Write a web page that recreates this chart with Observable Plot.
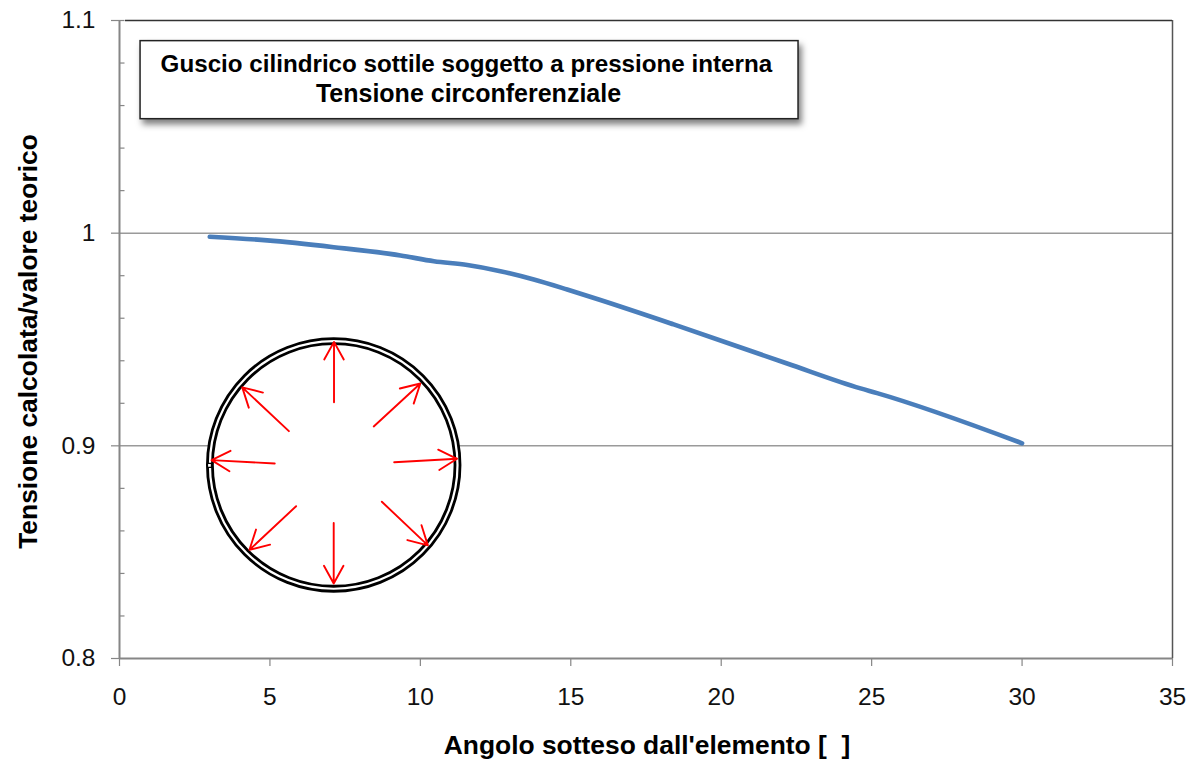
<!DOCTYPE html>
<html><head><meta charset="utf-8">
<script src="https://cdn.jsdelivr.net/npm/d3@7"></script>
<script src="https://cdn.jsdelivr.net/npm/@observablehq/plot@0.6"></script>
<style>html,body{margin:0;padding:0;background:#fff}svg{display:block}</style>
</head><body><div id="chart"></div>
<script>
const angle = [3, 4.91, 7.12, 9.34, 10.45, 11.56, 12.66, 13.77, 14.88, 15.93, 18.42, 22.19, 24.63, 25.18, 30];
const ratio = [0.9983, 0.9966, 0.9934, 0.9895, 0.9868, 0.9850, 0.9821, 0.9782, 0.9735, 0.9688, 0.9571, 0.9387, 0.9270, 0.9248, 0.9012];
const xTicks = [0, 5, 10, 15, 20, 25, 30, 35];
const yTicks = [0.8, 0.9, 1, 1.1];
const yMinor = [0.82, 0.84, 0.86, 0.88, 0.92, 0.94, 0.96, 0.98, 1.02, 1.04, 1.06, 1.08, 1.1];
const arrowX1 = [7.13, 8.45, 9.13, 8.72, 7.12, 5.87, 5.16, 5.63];
const arrowY1 = [0.9205, 0.9091, 0.8923, 0.8737, 0.8637, 0.8716, 0.8917, 0.9069];
const arrowX2 = [7.13, 10.0, 11.22, 10.25, 7.12, 4.32, 3.06, 4.08];
const arrowY2 = [0.9489, 0.9293, 0.8939, 0.8532, 0.8353, 0.8511, 0.8933, 0.9275];
const titleLines = ["Guscio cilindrico sottile soggetto a pressione interna", "Tensione circonferenziale"];
const titleX = [11.53, 11.6];
const titleY = [1.0793, 1.0654];
const xLabel = "Angolo sotteso dall'elemento [  ]";
const yLabel = "Tensione calcolata/valore teorico";

const font = "'Liberation Sans', Arial, sans-serif";
const curve = angle.map((a, i) => ({a, r: ratio[i]}));
const arrows = arrowX1.map((x, i) => ({x1: x, y1: arrowY1[i], x2: arrowX2[i], y2: arrowY2[i]}));

const chart = Plot.plot({
  width: 1191, height: 759,
  marginLeft: 119, marginRight: 19, marginTop: 20, marginBottom: 101,
  style: {fontFamily: font, background: "#fff"},
  x: {domain: [0, 35]},
  y: {domain: [0.8, 1.1]},
  marks: [
    Plot.ruleY([1, 0.9], {stroke: "#9a9a9a", strokeWidth: 1.5}),
    Plot.ruleX([35], {stroke: "#555", strokeWidth: 1.5}),
    Plot.ruleY([1.1], {x1: 0.2, x2: 35, stroke: "#333", strokeWidth: 1.5}),
    Plot.axisY(yMinor, {tickSize: -5.5, tickFormat: () => "", stroke: "#868686", strokeWidth: 1.2, label: null}),
    Plot.axisY(yTicks, {tickSize: 8, tickPadding: 16, tickFormat: d => String(d), fontSize: 24.5, fill: "#111", stroke: "#868686", strokeWidth: 1.2, label: null}),
    Plot.axisX(xTicks, {tickSize: 8, tickPadding: 21, fontSize: 24.5, fill: "#111", stroke: "#868686", strokeWidth: 1.2, label: null}),
    Plot.ruleX([0], {stroke: "#868686", strokeWidth: 2}),
    Plot.ruleY([0.8], {stroke: "#868686", strokeWidth: 2}),
    Plot.line(curve, {x: "a", y: "r", stroke: "#4a7ebb", strokeWidth: 4.6, strokeLinecap: "round", strokeLinejoin: "round", curve: "monotone-x"}),
    Plot.rect([0], {x1: 0.70, x2: 22.57, y1: 1.0536, y2: 1.0903, fill: "#fff", stroke: "#222", strokeWidth: 1.5, imageFilter: "drop-shadow(3px 5px 3px rgba(0,0,0,0.5))"}),
    Plot.text([titleLines[0]], {x: titleX[0], y: titleY[0], fontSize: 24.2, fontWeight: "bold", fill: "#000"}),
    Plot.text([titleLines[1]], {x: titleX[1], y: titleY[1], fontSize: 25, fontWeight: "bold", fill: "#000"}),
    Plot.dot([0], {x: 7.12, y: 0.891, r: 126.3, fill: "#fff", stroke: "#000", strokeWidth: 2.8}),
    Plot.dot([0], {x: 7.12, y: 0.891, r: 121.3, fill: "#fff", stroke: "#000", strokeWidth: 2.8}),
    Plot.dot([0], {x: 2.99, y: 0.8908, r: 2.2, symbol: "square", fill: "#fff", stroke: "#000", strokeWidth: 1.2}),
    Plot.arrow(arrows, {x1: "x1", y1: "y1", x2: "x2", y2: "y2", stroke: "#ff0000", strokeWidth: 1.9, headLength: 24, headAngle: 58, bend: 0}),
    Plot.text([xLabel], {frameAnchor: "bottom", dy: 95, dx: 1, fontSize: 26.4, fontWeight: "bold", fill: "#000"}),
    Plot.text([yLabel], {frameAnchor: "left", textAnchor: "middle", dx: -91, dy: 2, rotate: -90, fontSize: 26.4, fontWeight: "bold", fill: "#000"})
  ]
});
document.getElementById("chart").append(chart);
</script></body></html>
